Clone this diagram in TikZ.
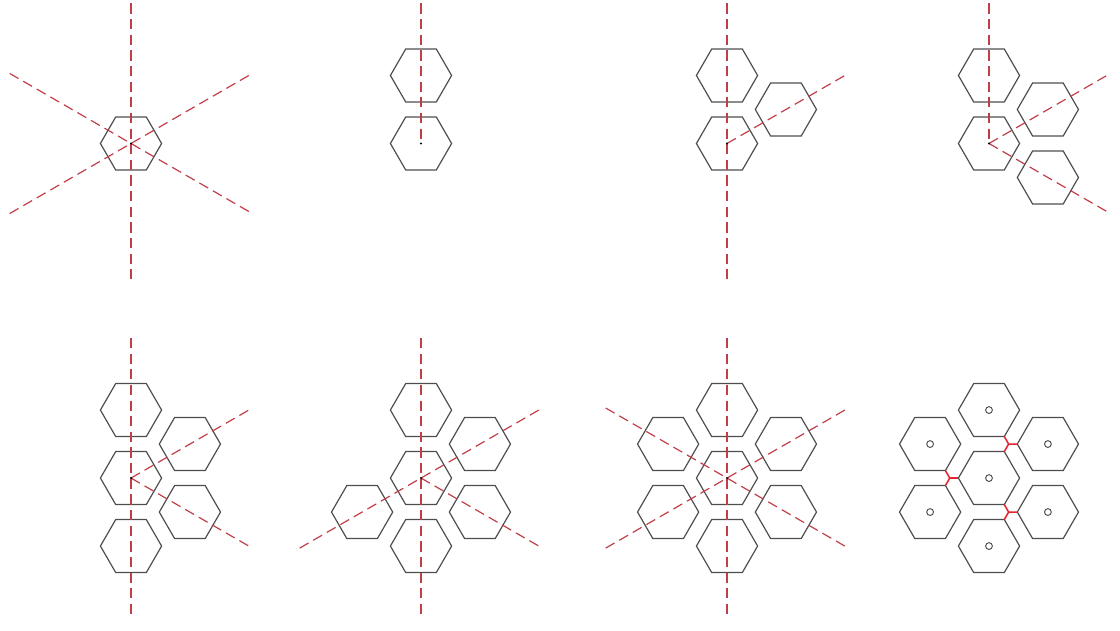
\documentclass[tikz,border=0pt]{standalone}
\usetikzlibrary{shapes.geometric}
\definecolor{hexgray}{RGB}{78,78,78}
\definecolor{axisred}{RGB}{192,62,72}
\definecolor{linkred}{RGB}{228,38,50}
\tikzset{
  hexa/.style={regular polygon,regular polygon sides=6,minimum size=1.8cm,
    inner sep=0pt,outer sep=0pt,draw=hexgray,line width=1pt},
  axis/.style={draw=axisred,line width=1pt,dash pattern=on 3mm off 1.6mm},
  link/.style={draw=linkred,line width=1.3pt},
  hole/.style={draw=hexgray,line width=0.8pt}
}
\begin{document}
\begin{tikzpicture}[scale=1.0]
    \useasboundingbox (0,0) rectangle (32.94,-18.53);
    % 中心点
    \coordinate (O1) at (3.853,-4.22);
    \coordinate (O2) at (12.382,-4.22);
    \coordinate (O3) at (21.382,-4.22);
    \coordinate (O4) at (29.087,-4.22);
    \coordinate (O5) at (3.853,-14.06);
    \coordinate (O6) at (12.382,-14.06);
    \coordinate (O7) at (21.382,-14.06);
    \coordinate (O8) at (29.087,-14.06);
    % (1) 一个六边形与三条对称轴
    \node[hexa] (C1) at (O1) {};
    \draw[axis] ([shift={(90:4.12)}]O1) -- ([shift={(270:4.12)}]O1);
    \draw[axis] ([shift={(150:4.12)}]O1) -- ([shift={(330:4.12)}]O1);
    \draw[axis] ([shift={(210:4.12)}]O1) -- ([shift={(30:4.12)}]O1);
    \fill (O1) circle (0.035);
    % (2)
    \node[hexa] (C2) at (O2) {};
    \node[hexa] (U2) at ([shift={(90:2)}]O2) {};
    \draw[axis] ([shift={(90:4.12)}]O2) -- (O2);
    \fill (O2) circle (0.035);
    % (3)
    \node[hexa] (C3) at (O3) {};
    \node[hexa] (U3) at ([shift={(90:2)}]O3) {};
    \node[hexa] (UR3) at ([shift={(30:2)}]O3) {};
    \draw[axis] ([shift={(90:4.12)}]O3) -- ([shift={(270:4.12)}]O3);
    \draw[axis] (O3) -- ([shift={(30:4.12)}]O3);
    \fill (O3) circle (0.035);
    % (4)
    \node[hexa] (C4) at (O4) {};
    \node[hexa] (U4) at ([shift={(90:2)}]O4) {};
    \node[hexa] (UR4) at ([shift={(30:2)}]O4) {};
    \node[hexa] (DR4) at ([shift={(330:2)}]O4) {};
    \draw[axis] ([shift={(90:4.12)}]O4) -- (O4);
    \draw[axis] (O4) -- ([shift={(30:4.12)}]O4);
    \draw[axis] (O4) -- ([shift={(330:4.12)}]O4);
    \fill (O4) circle (0.035);
    % (5)
    \node[hexa] (C5) at (O5) {};
    \node[hexa] (U5) at ([shift={(90:2)}]O5) {};
    \node[hexa] (UR5) at ([shift={(30:2)}]O5) {};
    \node[hexa] (DR5) at ([shift={(330:2)}]O5) {};
    \node[hexa] (D5) at ([shift={(270:2)}]O5) {};
    \draw[axis] ([shift={(90:4.12)}]O5) -- ([shift={(270:4.12)}]O5);
    \draw[axis] (O5) -- ([shift={(30:4.12)}]O5);
    \draw[axis] (O5) -- ([shift={(330:4.12)}]O5);
    \fill (O5) circle (0.035);
    % (6)
    \node[hexa] (C6) at (O6) {};
    \node[hexa] (U6) at ([shift={(90:2)}]O6) {};
    \node[hexa] (UR6) at ([shift={(30:2)}]O6) {};
    \node[hexa] (DR6) at ([shift={(330:2)}]O6) {};
    \node[hexa] (D6) at ([shift={(270:2)}]O6) {};
    \node[hexa] (DL6) at ([shift={(210:2)}]O6) {};
    \draw[axis] ([shift={(90:4.12)}]O6) -- ([shift={(270:4.12)}]O6);
    \draw[axis] ([shift={(210:4.12)}]O6) -- ([shift={(30:4.12)}]O6);
    \draw[axis] (O6) -- ([shift={(330:4.12)}]O6);
    \fill (O6) circle (0.035);
    % (7)
    \node[hexa] (C7) at (O7) {};
    \node[hexa] (U7) at ([shift={(90:2)}]O7) {};
    \node[hexa] (UR7) at ([shift={(30:2)}]O7) {};
    \node[hexa] (DR7) at ([shift={(330:2)}]O7) {};
    \node[hexa] (D7) at ([shift={(270:2)}]O7) {};
    \node[hexa] (DL7) at ([shift={(210:2)}]O7) {};
    \node[hexa] (UL7) at ([shift={(150:2)}]O7) {};
    \draw[axis] ([shift={(90:4.12)}]O7) -- ([shift={(270:4.12)}]O7);
    \draw[axis] ([shift={(210:4.12)}]O7) -- ([shift={(30:4.12)}]O7);
    \draw[axis] ([shift={(150:4.12)}]O7) -- ([shift={(330:4.12)}]O7);
    \fill (O7) circle (0.035);
    % (8) 七个六边形, 红色连接
    \node[hexa] (C8) at (O8) {};
    \node[hexa] (U8) at ([shift={(90:2)}]O8) {};
    \node[hexa] (UR8) at ([shift={(30:2)}]O8) {};
    \node[hexa] (DR8) at ([shift={(330:2)}]O8) {};
    \node[hexa] (D8) at ([shift={(270:2)}]O8) {};
    \node[hexa] (DL8) at ([shift={(210:2)}]O8) {};
    \node[hexa] (UL8) at ([shift={(150:2)}]O8) {};
    \coordinate (J1) at ([shift={(60:1.1547)}]O8);
    \coordinate (J2) at ([shift={(180:1.1547)}]O8);
    \coordinate (J3) at ([shift={(300:1.1547)}]O8);
    \draw[link] (U8.300) -- (J1) -- (C8.60);
    \draw[link] (J1) -- (UR8.180);
    \draw[link] (UL8.300) -- (J2) -- (DL8.60);
    \draw[link] (J2) -- (C8.180);
    \draw[link] (C8.300) -- (J3) -- (D8.60);
    \draw[link] (J3) -- (DR8.180);
    \draw[hole] (C8.center) circle (0.1);
    \draw[hole] (U8.center) circle (0.1);
    \draw[hole] (UR8.center) circle (0.1);
    \draw[hole] (DR8.center) circle (0.1);
    \draw[hole] (D8.center) circle (0.1);
    \draw[hole] (DL8.center) circle (0.1);
    \draw[hole] (UL8.center) circle (0.1);
\end{tikzpicture}
\end{document}
